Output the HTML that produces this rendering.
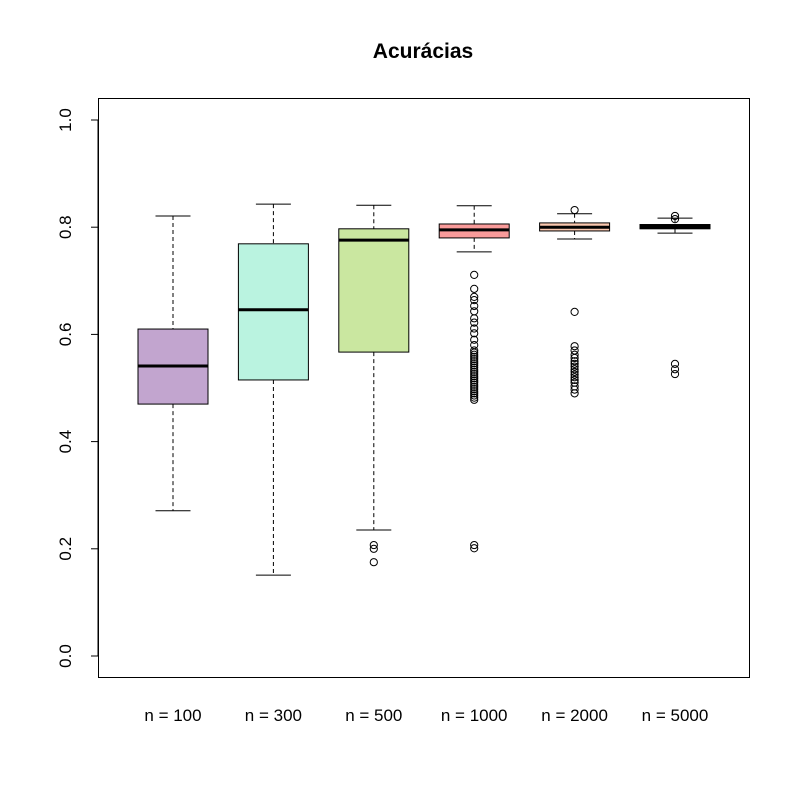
<!DOCTYPE html>
<html><head><meta charset="utf-8"><style>
body{margin:0;background:#fff}
svg{display:block}
text{font-family:"Liberation Sans",Arial,sans-serif}
</style></head><body>
<svg id="chart" width="800" height="800" xmlns="http://www.w3.org/2000/svg"></svg>
<script>
const categories=["n = 100","n = 300","n = 500","n = 1000","n = 2000","n = 5000"];
const lowerWhisker=[0.271,0.151,0.235,0.754,0.778,0.789];
const q1=[0.470,0.515,0.567,0.780,0.793,0.797];
const medians=[0.541,0.646,0.776,0.795,0.800,0.802];
const q3=[0.610,0.769,0.797,0.806,0.808,0.805];
const upperWhisker=[0.821,0.843,0.841,0.840,0.825,0.817];
const colors=["#C2A5CF","#BAF3E0","#CAE7A0","#F99B9A","#FBC8AF","#000000"];
const outliers=[
 [],
 [],
 [0.207,0.200,0.175],
 [0.711,0.685,0.670,0.664,0.653,0.643,0.630,0.622,0.611,0.602,0.590,0.580,0.570,0.566,0.562,0.558,0.554,0.550,0.546,0.542,0.538,0.534,0.530,0.526,0.522,0.518,0.514,0.510,0.506,0.502,0.498,0.494,0.490,0.486,0.482,0.478,0.207,0.201],
 [0.832,0.642,0.578,0.570,0.562,0.556,0.550,0.545,0.540,0.535,0.530,0.525,0.520,0.515,0.510,0.503,0.497,0.490],
 [0.821,0.815,0.545,0.535,0.526]
];
const yTicks=[0,0.2,0.4,0.6,0.8,1.0];
const yTickLabels=["0.0","0.2","0.4","0.6","0.8","1.0"];

const NS="http://www.w3.org/2000/svg";
const svg=document.getElementById('chart');
const y=v=>656-v*536;
const x=i=>173+i*100.4;
function mk(tag,attrs,parent){const e=document.createElementNS(NS,tag);for(const k in attrs)e.setAttribute(k,attrs[k]);(parent||svg).appendChild(e);return e;}

const title=mk('text',{x:423,y:58,'text-anchor':'middle','font-size':'21','font-weight':'bold'});
title.textContent='Acurácias';



const frame=mk('rect',{x:98.5,y:98.5,width:651,height:579,fill:'none',stroke:'#000','stroke-width':1});



const yAxis=mk('g',{});


mk('line',{x1:98,x2:98,y1:y(0),y2:y(1),stroke:'#000'},yAxis);
yTicks.forEach((t,i)=>{
  mk('line',{x1:91,x2:98,y1:y(t),y2:y(t),stroke:'#000'},yAxis);
  const tx=mk('text',{x:0,y:0,'text-anchor':'middle','font-size':'17',transform:`translate(71,${y(t)}) rotate(-90)`},yAxis);
  tx.textContent=yTickLabels[i];
  
  
});

categories.forEach((c,i)=>{
  const g=mk('g',{});
  
  
  const cx=x(i),hw=35,cw=17.5;
  mk('line',{x1:cx,x2:cx,y1:y(upperWhisker[i]),y2:y(q3[i]),stroke:'#000','stroke-dasharray':'4,3'},g);
  mk('line',{x1:cx,x2:cx,y1:y(q1[i]),y2:y(lowerWhisker[i]),stroke:'#000','stroke-dasharray':'4,3'},g);
  mk('line',{x1:cx-cw,x2:cx+cw,y1:y(upperWhisker[i]),y2:y(upperWhisker[i]),stroke:'#000'},g);
  mk('line',{x1:cx-cw,x2:cx+cw,y1:y(lowerWhisker[i]),y2:y(lowerWhisker[i]),stroke:'#000'},g);
  mk('rect',{x:cx-hw,y:y(q3[i]),width:hw*2,height:Math.max(y(q1[i])-y(q3[i]),1),fill:colors[i],stroke:'#000','stroke-width':1},g);
  mk('line',{x1:cx-hw,x2:cx+hw,y1:y(medians[i]),y2:y(medians[i]),stroke:'#000','stroke-width':3},g);
  outliers[i].forEach(o=>{
    const p=mk('circle',{cx:cx,cy:y(o),r:3.6,fill:'none',stroke:'#000','stroke-width':1},g);
    
    
  });
  const lbl=mk('text',{x:cx,y:721,'text-anchor':'middle','font-size':'17'});
  lbl.textContent=c;
  
  
});
</script>
</body></html>
